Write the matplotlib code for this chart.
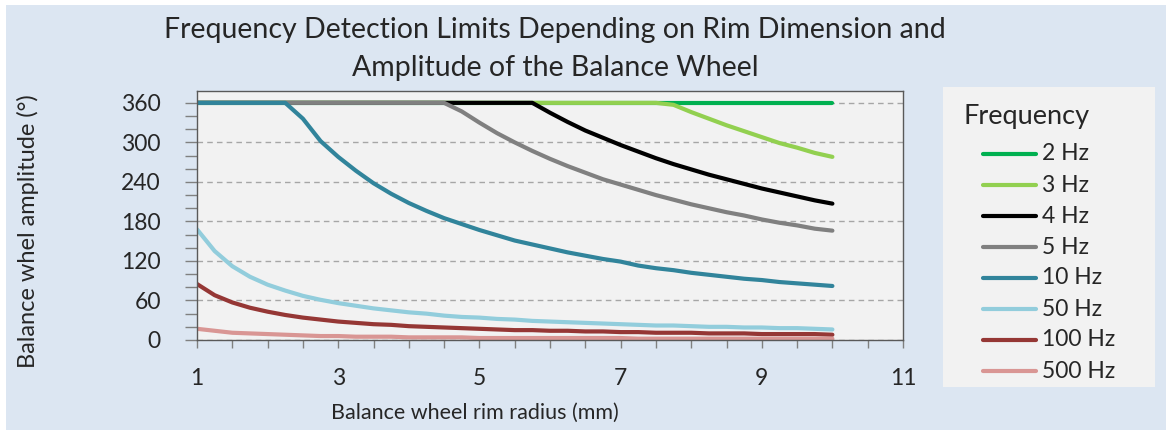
import numpy as np
import matplotlib
matplotlib.use("Agg")
import matplotlib.pyplot as plt
from matplotlib.patches import Rectangle
from matplotlib.lines import Line2D
from matplotlib.ticker import FixedLocator, MultipleLocator

plt.rcParams["font.family"] = ["Lato", "DejaVu Sans"]

# ── data ─────────────────────────────────────────────────────────────────────
radius = [1.00, 1.25, 1.50, 1.75, 2.00, 2.25, 2.50, 2.75, 3.00, 3.25,
          3.50, 3.75, 4.00, 4.25, 4.50, 4.75, 5.00, 5.25, 5.50, 5.75,
          6.00, 6.25, 6.50, 6.75, 7.00, 7.25, 7.50, 7.75, 8.00, 8.25,
          8.50, 8.75, 9.00, 9.25, 9.50, 9.75, 10.00]

amp_2hz = [360] * 37
amp_3hz = [360] * 27 + [357, 346, 336, 326, 317, 308, 299, 292, 284, 278]
amp_4hz = [360] * 20 + [345, 331, 318, 307, 296, 286, 276, 267, 259, 251,
                        244, 237, 230, 224, 218, 212, 207]
amp_5hz = [360] * 15 + [347, 330, 314, 300, 287, 275, 264, 254, 244, 236,
                        228, 220, 213, 206, 200, 194, 189, 183, 178, 174,
                        169, 166]
amp_10hz = [360, 360, 360, 360, 360, 360, 336, 302, 278, 257,
            238, 222, 208, 196, 185, 176, 167, 159, 151, 145,
            139, 133, 128, 123, 119, 113, 109, 106, 102, 99,
            96, 93, 91, 88, 86, 84, 82]
amp_50hz = [168, 135, 112, 96, 84, 75, 67, 61, 56, 52,
            48, 45, 42, 40, 37, 35, 34, 32, 31, 29,
            28, 27, 26, 25, 24, 23, 22, 22, 21, 20,
            20, 19, 19, 18, 18, 17, 16]
amp_100hz = [85, 68, 57, 49, 43, 38, 34, 31, 28, 26,
             24, 23, 21, 20, 19, 18, 17, 16, 15, 15,
             14, 14, 13, 13, 12, 12, 11, 11, 11, 10,
             10, 10, 9, 9, 9, 9, 8]
amp_500hz = [17, 14, 11, 10, 9, 8, 7, 6, 6, 5,
             5, 5, 4, 4, 4, 4, 3, 3, 3, 3,
             3, 3, 3, 3, 3, 2, 2, 2, 2, 2,
             2, 2, 2, 2, 2, 2, 2]

labels = ["2 Hz", "3 Hz", "4 Hz", "5 Hz", "10 Hz", "50 Hz", "100 Hz", "500 Hz"]
series = [amp_2hz, amp_3hz, amp_4hz, amp_5hz, amp_10hz, amp_50hz, amp_100hz, amp_500hz]
colors = ["#00B050", "#92D050", "#000000", "#808080",
          "#31849B", "#92CDDC", "#953735", "#D99694"]

TEXT = "#262626"
LW = 3.0

# ── figure ───────────────────────────────────────────────────────────────────
W, H = 1166, 430
fig = plt.figure(figsize=(W / 100, H / 100), dpi=100, facecolor="white")
fig.patches.append(Rectangle((6 / W, 0), 1 - 6 / W, 1 - 5 / H,
                             transform=fig.transFigure, facecolor="#DCE6F2",
                             edgecolor="none", zorder=-2))

ax = fig.add_axes([197 / W, 1 - 340 / H, (903 - 197) / W, (340 - 91) / H])
ax.set_facecolor("#F2F2F2")

# series order as in the source: later series sit on top of the 360 plateau
for vals, col, lab in zip(series, colors, labels):
    ax.plot(radius, vals, color=col, lw=LW, solid_capstyle="round",
            solid_joinstyle="round", label=lab)

ax.set_xlim(1, 11)
ax.set_ylim(0, 378)
ax.xaxis.set_major_locator(FixedLocator([1, 3, 5, 7, 9, 11]))
ax.xaxis.set_minor_locator(MultipleLocator(0.5))
ax.yaxis.set_major_locator(FixedLocator([0, 60, 120, 180, 240, 300, 360]))
ax.yaxis.set_minor_locator(MultipleLocator(20))

ax.grid(axis="y", which="major", color="#A6A6A6", ls=(0, (4, 3)), lw=1.0)
ax.set_axisbelow(True)

for s in ax.spines.values():
    s.set_color("#595959")
    s.set_linewidth(1.0)

ax.tick_params(axis="both", which="both", direction="out", color="#808080",
               width=1.0, labelsize=16.5, labelcolor=TEXT)
ax.tick_params(axis="y", which="both", length=9, pad=17)
ax.tick_params(axis="x", which="both", length=6, pad=14)

ax.set_xlabel("Balance wheel rim radius (mm)", fontsize=15.5, color=TEXT)
ax.xaxis.set_label_coords((475 - 197) / 706, (340 - 413) / 249)
ax.set_ylabel("Balance whel amplitude (°)", fontsize=17, color=TEXT)
ax.yaxis.set_label_coords((28 - 197) / 706, (340 - 231) / 249)
ax.xaxis.label.set_va("center")
ax.yaxis.label.set_va("center")

fig.text(555 / W, 1 - 30 / H,
         "Frequency Detection Limits Depending on Rim Dimension and",
         ha="center", va="center", fontsize=20.5, color=TEXT)
fig.text(555 / W, 1 - 68 / H, "Amplitude of the Balance Wheel",
         ha="center", va="center", fontsize=20.5, color=TEXT)

# ── legend box (drawn by hand to match the indented entries) ─────────────────
fig.patches.append(Rectangle((943 / W, 1 - 387 / H), (1155 - 943) / W, (387 - 87) / H,
                             transform=fig.transFigure, facecolor="#F2F2F2",
                             edgecolor="none", zorder=-1))
fig.text(963 / W, 1 - 116 / H, "Frequency", ha="left", va="center",
         fontsize=19.5, color=TEXT)
for i, (col, lab) in enumerate(zip(colors, labels)):
    yy = 1 - (154 + 31 * i) / H
    fig.add_artist(Line2D([983 / W, 1036 / W], [yy, yy], transform=fig.transFigure,
                          color=col, lw=LW, solid_capstyle="round"))
    fig.text(1042 / W, yy, lab, ha="left", va="center", fontsize=16.5, color=TEXT)

fig.savefig("out.png", dpi=100, facecolor=fig.get_facecolor())
